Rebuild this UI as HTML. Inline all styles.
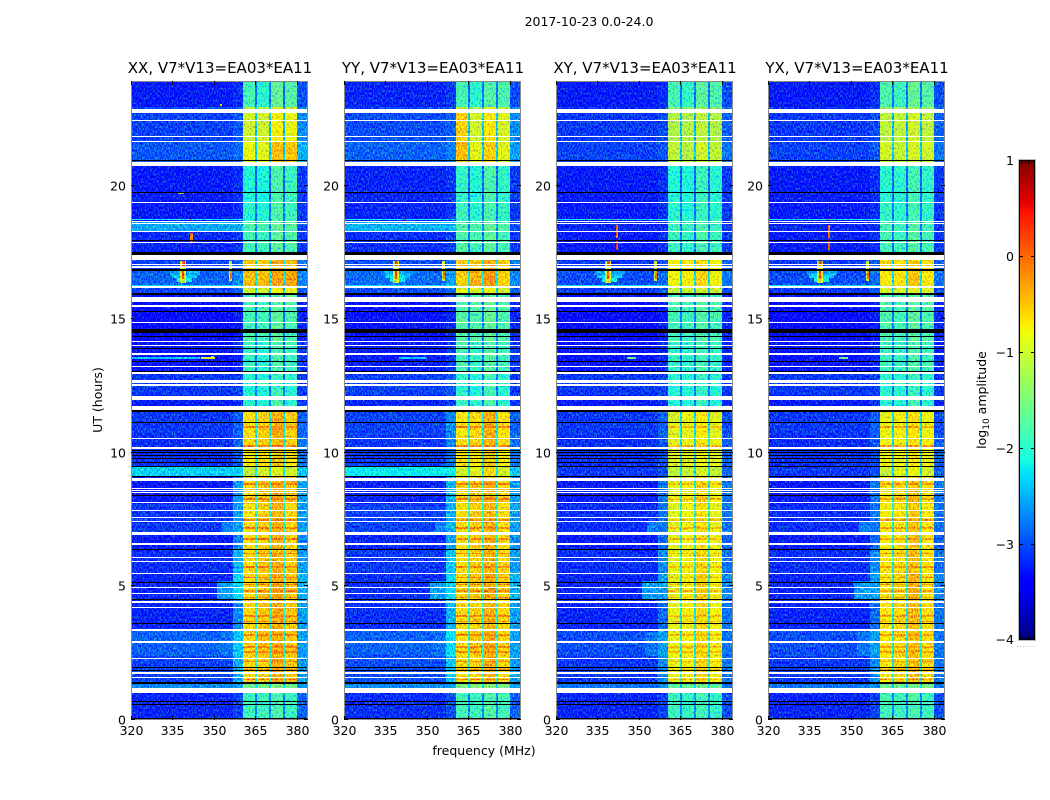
<!DOCTYPE html>
<html>
<head>
<meta charset="utf-8">
<title>2017-10-23 0.0-24.0</title>
<style>
html,body{margin:0;padding:0;background:#fff;}
svg{display:block;}
text{font-family:"DejaVu Sans","Liberation Sans",sans-serif;fill:#000;font-size:12.5px;}
</style>
</head>
<body>
<svg id="figure" xmlns="http://www.w3.org/2000/svg" width="1050" height="800" viewBox="0 0 1050 800">
  <defs>
    <filter id="grain" x="0" y="0" width="100%" height="100%" color-interpolation-filters="sRGB">
      <feTurbulence type="fractalNoise" baseFrequency="0.75 0.42" numOctaves="1" seed="7" result="t"/>
      <feColorMatrix in="t" type="matrix" values="1.2 0 0 0 -.1  2.2 0 0 0 -.6  -1.2 0 0 0 1.1  0 0 0 0 1" result="n"/>
      <feComposite in="SourceGraphic" in2="n" operator="arithmetic" k1="0" k2="1" k3=".6" k4="-.3"/>
    </filter>
  </defs>
  <text x="589" y="26" text-anchor="middle">2017-10-23 0.0-24.0</text>
  <g id="panels"></g>
  <text transform="translate(102,400) rotate(-90)" text-anchor="middle">UT (hours)</text>
  <text x="484" y="755" text-anchor="middle">frequency (MHz)</text>
  <g id="colorbar"></g>
  <text transform="translate(986,400) rotate(-90)" text-anchor="middle">log<tspan dy="3" style="font-size:9px">10</tspan><tspan dy="-3"> amplitude</tspan></text>
</svg>
<script>
const NS = 'http://www.w3.org/2000/svg';

/* ---- chart data ---- */
const panelTitles = ['XX, V7*V13=EA03*EA11', 'YY, V7*V13=EA03*EA11', 'XY, V7*V13=EA03*EA11', 'YX, V7*V13=EA03*EA11'];
const freqTicks = [320, 335, 350, 365, 380];
const hourTicks = [0, 5, 10, 15, 20];
const colorbarTicks = [1, 0, -1, -2, -3, -4];

/* frequency bin edges in MHz; level column index for each bin */
const freqEdges = [320, 357, 360.5, 365, 365.6, 369.9, 370.6, 375, 375.7, 379.9, 384];
const freqBinColumn = [0, 1, 2, 3, 4, 3, 5, 3, 6, 7];

/* time segment edges in hours */
const hourEdges = [0, 1, 1.44, 2.39, 3.39, 4.49, 5.48, 6.38, 6.98, 8.08, 9.11, 9.48, 10.17, 10.67, 11.59, 12.17, 12.97, 14.17, 15.92, 16.22, 16.85, 17.45, 18.3, 18.67, 19.35, 20.79, 21.64, 22.74, 22.94, 23.93];

/* log10 amplitude per segment: bg, ramp, band A, notch, band B, band C, band D, tail */
const xxLevels = [
[-3.2,-3.05,-1.9,-2.7,-1.9,-1.8,-1.9,-2.9],[-2.7,-2.6,-1.6,-2.3,-1.6,-1.5,-1.6,-2.6],
[-3.05,-2.5,-.6,-2.1,-.55,-.35,-.5,-2.6],[-2.9,-2.4,-.6,-2.1,-.45,-.35,-.5,-2.6],
[-3.2,-2.7,-.6,-2.1,-.5,-.35,-.5,-2.6],[-3.2,-2.3,-.6,-2.1,-.5,-.35,-.5,-2.5],
[-3.15,-2.5,-.6,-2.1,-.5,-.4,-.55,-2.6],[-3.25,-2.7,-.65,-2.1,-.55,-.4,-.6,-2.7],
[-3.1,-2.6,-.65,-2.1,-.55,-.4,-.6,-2.6],[-3.25,-2.6,-.6,-2.1,-.5,-.35,-.5,-2.6],
[-2.35,-2.35,-1.1,-2.2,-1.0,-.9,-1.0,-2.4],[-3.15,-2.9,-.7,-2.2,-.65,-.5,-.65,-2.8],
[-3.15,-2.9,-.6,-2.2,-.55,-.4,-.55,-2.8],[-3.1,-2.9,-.65,-2.2,-.55,-.35,-.55,-2.9],
[-3.25,-3.15,-2.0,-2.8,-2.05,-1.8,-2.0,-3.1],[-3.1,-3.05,-2.05,-2.8,-2.05,-1.9,-2.0,-3.1],
[-3.3,-3.2,-1.95,-2.8,-2.0,-1.8,-1.9,-3.1],[-3.35,-3.25,-1.85,-2.8,-1.85,-1.7,-1.8,-3.2],
[-3.05,-2.9,-1.0,-2.4,-1.0,-.8,-.85,-2.9],[-2.9,-2.7,-.45,-2.2,-.45,-.3,-.3,-2.7],
[-3.05,-2.9,-.5,-2.2,-.55,-.4,-.45,-2.8],[-3.2,-3.1,-1.85,-2.8,-1.9,-1.7,-1.8,-3.1],
[-2.55,-2.55,-1.8,-2.7,-1.85,-1.65,-1.75,-3],[-3.25,-3.15,-2.0,-2.8,-2.05,-1.8,-1.9,-3.1],
[-3.25,-3.15,-2.05,-2.9,-2.1,-1.8,-1.9,-3.1],[-2.95,-2.85,-.85,-2.4,-.9,-.45,-.5,-2.5],
[-3.05,-2.95,-1,-2.4,-1,-.75,-.85,-2.7],[-3.05,-2.95,-1.2,-2.4,-1.2,-.9,-1,-2.7],
[-3.25,-3.15,-1.85,-2.8,-2.0,-1.65,-1.75,-3]];
const yyLevels = [
[-3.15,-3.0,-1.85,-2.7,-1.9,-1.75,-1.85,-2.9],[-2.7,-2.6,-1.5,-2.3,-1.5,-1.4,-1.5,-2.6],
[-3.0,-2.4,-.6,-2.1,-.6,-.4,-.6,-2.6],[-2.9,-2.3,-.65,-2.1,-.5,-.35,-.6,-2.6],
[-3.15,-2.5,-.6,-2.1,-.55,-.4,-.6,-2.6],[-3.15,-2.3,-.6,-2.1,-.5,-.35,-.55,-2.5],
[-3.1,-2.4,-.65,-2.1,-.55,-.4,-.6,-2.6],[-3.2,-2.6,-.65,-2.1,-.55,-.4,-.65,-2.7],
[-3.05,-2.5,-.65,-2.1,-.55,-.4,-.65,-2.6],[-3.2,-2.5,-.6,-2.1,-.5,-.4,-.55,-2.6],
[-2.2,-2.2,-1.0,-2.2,-.9,-.6,-1.0,-2.4],[-3.1,-2.8,-.7,-2.2,-.7,-.5,-.75,-2.8],
[-3.1,-2.7,-.65,-2.2,-.6,-.4,-.65,-2.8],[-3.05,-2.7,-.7,-2.2,-.6,-.35,-.65,-2.9],
[-3.2,-3.05,-1.9,-2.8,-2.0,-1.8,-2.0,-3.1],[-3.05,-2.95,-2.0,-2.8,-2.05,-1.85,-2.0,-3.1],
[-3.25,-3.1,-1.85,-2.8,-1.95,-1.75,-1.9,-3.1],[-3.3,-3.2,-1.75,-2.8,-1.8,-1.65,-1.8,-3.2],
[-3.0,-2.85,-.9,-2.4,-.95,-.8,-1.0,-2.9],[-2.85,-2.6,-.55,-2.2,-.4,-.25,-.55,-2.7],
[-3.0,-2.8,-.55,-2.2,-.5,-.35,-.55,-2.8],[-3.15,-3.05,-1.8,-2.8,-1.85,-1.7,-1.85,-3.1],
[-2.5,-2.5,-1.75,-2.7,-1.8,-1.65,-1.8,-3],[-3.2,-3.1,-1.9,-2.8,-2.0,-1.8,-1.95,-3.1],
[-3.2,-3.1,-1.95,-2.9,-2.05,-1.8,-1.95,-3.1],[-2.9,-2.75,-.45,-2.4,-.9,-.55,-.9,-2.6],
[-3.0,-2.9,-.55,-2.4,-1.0,-.7,-.95,-2.7],[-3.05,-2.95,-1.0,-2.4,-1.2,-.9,-1.1,-2.7],
[-3.2,-3.1,-1.85,-2.8,-2.0,-1.75,-1.8,-3]];
const xyLevels = [
[-3.2,-3.05,-1.9,-2.7,-1.95,-1.85,-1.95,-3],[-2.8,-2.7,-1.7,-2.4,-1.7,-1.6,-1.7,-2.8],
[-3.1,-2.7,-.85,-2.2,-.75,-.6,-.75,-2.8],[-3.0,-2.6,-.85,-2.2,-.75,-.6,-.8,-2.8],
[-3.2,-2.85,-.85,-2.2,-.75,-.6,-.8,-2.8],[-3.2,-2.6,-.85,-2.2,-.75,-.55,-.8,-2.7],
[-3.15,-2.7,-.85,-2.2,-.75,-.6,-.8,-2.8],[-3.25,-2.85,-.9,-2.2,-.8,-.65,-.85,-2.9],
[-3.15,-2.8,-.9,-2.2,-.8,-.65,-.85,-2.8],[-3.25,-2.8,-.85,-2.2,-.75,-.6,-.8,-2.8],
[-3.1,-3.0,-1.15,-2.3,-1.05,-.95,-1.1,-2.9],[-3.15,-3.0,-.9,-2.3,-.9,-.8,-.9,-2.9],
[-3.15,-2.95,-.9,-2.3,-.85,-.7,-.85,-2.9],[-3.1,-2.9,-.95,-2.3,-.85,-.7,-.9,-3],
[-3.25,-3.15,-2.05,-2.8,-2.05,-1.9,-2.05,-3.2],[-3.1,-3.05,-2.05,-2.8,-2.05,-1.95,-2.05,-3.1],
[-3.3,-3.2,-1.95,-2.8,-2.0,-1.85,-1.95,-3.2],[-3.35,-3.25,-1.85,-2.8,-1.9,-1.75,-1.85,-3.2],
[-3.1,-2.95,-1.1,-2.4,-1.1,-1.0,-1.05,-3],[-3.0,-2.85,-.8,-2.3,-.75,-.6,-.8,-2.8],
[-3.1,-2.95,-.75,-2.3,-.7,-.6,-.75,-2.9],[-3.25,-3.15,-1.9,-2.8,-1.95,-1.8,-1.9,-3.1],
[-3.2,-3.15,-1.9,-2.8,-1.9,-1.8,-1.9,-3.1],[-3.25,-3.15,-2.0,-2.8,-2.05,-1.9,-2.0,-3.1],
[-3.25,-3.15,-2.05,-2.9,-2.05,-1.9,-2.0,-3.1],[-3.05,-2.95,-1.1,-2.4,-1.15,-1.0,-1.1,-2.8],
[-3.1,-3.0,-1.2,-2.5,-1.2,-1.1,-1.2,-2.9],[-3.15,-3.05,-1.4,-2.5,-1.4,-1.3,-1.4,-2.9],
[-3.25,-3.15,-1.85,-2.8,-1.95,-1.7,-1.8,-3]];
const yxLevels = [
[-3.2,-3.05,-1.85,-2.7,-1.9,-1.8,-1.9,-3],[-2.8,-2.7,-1.6,-2.4,-1.6,-1.55,-1.6,-2.8],
[-3.1,-2.7,-.7,-2.2,-.6,-.45,-.6,-2.8],[-3.0,-2.6,-.7,-2.2,-.6,-.45,-.65,-2.8],
[-3.2,-2.85,-.7,-2.2,-.6,-.45,-.65,-2.8],[-3.2,-2.6,-.7,-2.2,-.6,-.4,-.65,-2.7],
[-3.15,-2.7,-.7,-2.2,-.6,-.45,-.65,-2.8],[-3.25,-2.85,-.75,-2.2,-.65,-.5,-.7,-2.9],
[-3.15,-2.8,-.75,-2.2,-.65,-.5,-.7,-2.8],[-3.25,-2.8,-.7,-2.2,-.6,-.45,-.65,-2.8],
[-3.1,-3.0,-1.05,-2.3,-.95,-.85,-1.0,-2.9],[-3.15,-3.0,-.8,-2.3,-.8,-.7,-.8,-2.9],
[-3.15,-2.95,-.8,-2.3,-.75,-.65,-.75,-2.9],[-3.1,-2.9,-.85,-2.3,-.75,-.65,-.8,-3],
[-3.25,-3.15,-2.0,-2.8,-2.05,-1.85,-2.0,-3.2],[-3.1,-3.05,-2.0,-2.8,-2.0,-1.9,-2.0,-3.1],
[-3.3,-3.2,-1.9,-2.8,-1.95,-1.8,-1.9,-3.2],[-3.35,-3.25,-1.8,-2.8,-1.85,-1.7,-1.8,-3.2],
[-3.1,-2.95,-1.0,-2.4,-1.0,-.9,-.95,-3],[-3.0,-2.85,-.7,-2.3,-.65,-.5,-.7,-2.8],
[-3.1,-2.95,-.6,-2.3,-.6,-.5,-.65,-2.9],[-3.25,-3.15,-1.85,-2.8,-1.9,-1.75,-1.85,-3.1],
[-3.2,-3.15,-1.85,-2.8,-1.9,-1.75,-1.85,-3.1],[-3.25,-3.15,-1.95,-2.8,-2.0,-1.85,-1.95,-3.1],
[-3.25,-3.15,-2.0,-2.9,-2.0,-1.85,-1.95,-3.1],[-3.05,-2.95,-1.0,-2.4,-1.05,-.95,-1.0,-2.8],
[-3.1,-3.0,-1.1,-2.5,-1.1,-1.0,-1.1,-2.9],[-3.15,-3.05,-1.3,-2.5,-1.3,-1.2,-1.3,-2.9],
[-3.25,-3.15,-1.8,-2.8,-1.9,-1.65,-1.75,-3]];
const panelLevels = [xxLevels, yyLevels, xyLevels, yxLevels];

/* brighter horizontal striations inside the bands */
const stripeHours = [1.51, 1.89, 2.19, 2.54, 2.74, 3.19, 3.69, 3.89, 4.59, 4.84, 5.08, 5.33, 5.73, 6.23, 6.78, 7.18, 7.48, 8.28, 8.83, 10.27, 10.97];
const stripeLevel = [-0.12, -0.15, -0.42, -0.28];

/* localised interference: f0, f1, t0, t1, level */
const rfiShared = [
[334,345,16.67,16.82,-2.55],[335,344,16.55,16.67,-2.35],[336.5,342,16.4,16.55,-2.1],
[337.8,339.9,16.35,17.2,-1.0],[338.5,339.2,16.5,16.82,0.2],[338.3,339.4,16.94,17.2,0.15],
[355.5,356.5,16.45,17.2,-1.0],[355.8,356.4,16.5,16.82,-0.1],
[320,361,16.24,16.28,-2.3],[320,361,18.71,18.75,-2.2],[341.5,342.2,18.71,18.75,0.1],
[351,357,4.5,5.2,-2.6],[352,357,2.4,3.3,-2.8],[353,357,6.98,7.4,-2.75]
];
const xxRfi = [[320,345,13.53,13.58,-2.4],[345.3,350.4,13.53,13.58,-1.0],[349,350,13.53,13.63,-0.6],[341.5,342.3,17.9,18.25,-0.1],[352,353,23,23.05,-0.7],[337,339,19.7,19.75,-1.4]];
const yyRfi = [[340,350,13.53,13.58,-2.4]];
const xyRfi = [[341.6,342.3,17.6,17.95,0.2],[341.6,342.3,18.05,18.55,-0.1],[345.5,349,13.53,13.58,-1.6]];
const yxRfi = [[341.6,342.3,17.6,17.95,0.1],[341.6,342.3,18.05,18.55,-0.1],[345.5,349,13.53,13.58,-1.6]];
const panelRfi = [xxRfi, yyRfi, xyRfi, yxRfi];

/* flagged rows with no data (white) and zero-amplitude rows (black): t0, t1 in hours */
const whiteRows = [
[22.74,22.89],[22.42,22.47],[21.82,21.87],[21.63,21.68],[20.75,20.9],[19.35,19.4],[18.65,18.7],[18.56,18.61],[18.26,18.31],[17.85,17.89],
[17.23,17.41],[17.04,17.09],[16.94,16.99],[16.19,16.24],[15.65,15.84],[15.48,15.53],[14.855,14.895],[14.145,14.185],[14.015,14.055],[13.675,13.745],
[13.205,13.245],[12.975,13.015],[12.625,12.735],[12.525,12.565],[11.985,12.135],[11.605,11.755],[10.535,10.575],[10.165,10.205],[8.96,9.07],[8.65,8.7],
[8.58,8.62],[8.5,8.55],[8.11,8.15],[7.81,7.85],[7.58,7.62],[7.4,7.44],[6.93,7.04],[6.57,6.61],[6.08,6.12],[5.93,5.97],
[5.48,5.52],[4.93,4.97],[4.7,4.74],[4.4,4.44],[4.21,4.25],[3.33,3.4],[2.9,2.94],[2.3,2.34],[1.74,1.78],[1.59,1.62],[1,1.19]
];
const blackRows = [
[20.94,20.99],[19.72,19.76],[17.92,17.96],[17.41,17.53],[16.82,16.88],[15.92,15.98],[15.265,15.305],[14.505,14.655],[14.335,14.375],[13.875,13.915],
[13.395,13.435],[13.025,13.055],[11.545,11.595],[11.135,11.175],[10.085,10.125],[9.99,10.03],[9.88,9.92],[9.76,9.8],[9.61,9.65],[9.46,9.5],
[9.09,9.13],[8.37,8.41],[6.38,6.42],[5.14,5.18],[4.51,4.55],[3.61,3.65],[1.96,2],[1.85,1.89],[1.34,1.42],[0.68,0.72],[0.57,0.61],[0.04,0.08]
];

/* ---- layout ---- */
const panelLeft = [131, 344, 556, 768];
const panelWidth = 177;
const plotTop = 81, plotBottom = 720;
const freqMin = 320, freqMax = 384, hourMax = 23.93;
const cbLeft = 1019, cbRight = 1035, cbTop = 160, cbBottom = 640;

function xScale(left, f) { return left + (f - freqMin) / (freqMax - freqMin) * panelWidth; }
function yScale(h) { return plotBottom - h / hourMax * (plotBottom - plotTop); }
function cbScale(v) { return cbBottom - (v + 4) / 5 * (cbBottom - cbTop); }

function lerpStops(stops, v) {
  for (let i = 1; i < stops.length; i++) {
    if (v <= stops[i][0]) {
      const a = stops[i - 1], b = stops[i];
      return a[1] + (b[1] - a[1]) * (v - a[0]) / (b[0] - a[0]);
    }
  }
  return stops[stops.length - 1][1];
}
const jetR = [[0,0],[.35,0],[.66,1],[.89,1],[1,.5]];
const jetG = [[0,0],[.125,0],[.375,1],[.64,1],[.91,0],[1,0]];
const jetB = [[0,.5],[.11,1],[.34,1],[.65,0],[1,0]];
function levelColor(level) {
  const v = Math.max(0, Math.min(1, (level + 4) / 5));
  const c = s => Math.round(255 * lerpStops(s, v));
  return 'rgb(' + c(jetR) + ',' + c(jetG) + ',' + c(jetB) + ')';
}

function make(tag, attrs, parent) {
  const el = document.createElementNS(NS, tag);
  for (const k in attrs) el.setAttribute(k, attrs[k]);
  parent.appendChild(el);
  return el;
}
function rowRect(left, x0, x1, t0, t1, fill, parent) {
  const yA = Math.round(yScale(t1));
  const yB = Math.max(yA + 1, Math.round(yScale(t0)));
  const xA = Math.round(x0), xB = Math.max(xA + 1, Math.round(x1));
  return make('rect', { x: xA, y: yA, width: xB - xA, height: yB - yA, fill: fill, 'shape-rendering': 'crispEdges' }, parent);
}

/* ---- panels ---- */
const panelsRoot = document.getElementById('panels');
const bandColumns = [2, 4, 5, 6];
panelTitles.forEach(function (title, p) {
  const left = panelLeft[p];
  const right = left + panelWidth;
  const axes = make('g', {}, panelsRoot);
  
  

  const heat = make('g', { filter: 'url(#grain)' }, axes);
  
  

  panelLevels[p].forEach(function (row, s) {
    freqBinColumn.forEach(function (col, b) {
      const cell = rowRect(left, xScale(left, freqEdges[b]), xScale(left, freqEdges[b + 1]), hourEdges[s], hourEdges[s + 1], levelColor(row[col]), heat);
      
      
    });
  });

  stripeHours.forEach(function (h) {
    freqBinColumn.forEach(function (col, b) {
      if (bandColumns.indexOf(col) < 0) return;
      const stripe = rowRect(left, xScale(left, freqEdges[b]), xScale(left, freqEdges[b + 1]), h - 0.03, h + 0.03, levelColor(stripeLevel[p]), heat);
      
      
    });
  });

  rfiShared.concat(panelRfi[p]).forEach(function (r) {
    const rfi = rowRect(left, xScale(left, r[0]), xScale(left, r[1]), r[2], r[3], levelColor(r[4]), heat);
    
    
  });

  whiteRows.forEach(function (r) {
    const gap = rowRect(left, left, right, r[0], r[1], '#fff', axes);
    
    
  });
  blackRows.forEach(function (r) {
    const zero = rowRect(left, left, right, r[0], r[1], '#000', axes);
    
    
  });

  const frame = make('rect', { x: left + 0.5, y: plotTop + 0.5, width: panelWidth - 1, height: plotBottom - plotTop - 1, fill: 'none', stroke: '#8a8a8a', 'stroke-width': 1 }, axes);
  
  

  const titleEl = make('text', { x: left + panelWidth / 2 + 0.5, y: 73, 'text-anchor': 'middle', style: 'font-size:15px' }, axes);
  titleEl.textContent = title;
  
  

  freqTicks.forEach(function (f) {
    const x = Math.round(xScale(left, f)) + 0.5;
    const tb = make('line', { x1: x, x2: x, y1: plotBottom, y2: plotBottom - 4, stroke: '#000' }, axes);
    
    
    const tt = make('line', { x1: x, x2: x, y1: plotTop, y2: plotTop + 4, stroke: '#000' }, axes);
    
    
    const lab = make('text', { x: x, y: 735, 'text-anchor': 'middle' }, axes);
    lab.textContent = f;
    
    
  });
  hourTicks.forEach(function (h) {
    const y = Math.round(yScale(h)) - 0.5;
    const tl = make('line', { x1: left, x2: left + 4, y1: y, y2: y, stroke: '#000' }, axes);
    
    
    const tr = make('line', { x1: right, x2: right - 4, y1: y, y2: y, stroke: '#000' }, axes);
    
    
    const lab = make('text', { x: left - 5, y: y + 5, 'text-anchor': 'end' }, axes);
    lab.textContent = h;
    
    
  });
});

/* ---- colorbar ---- */
const cb = document.getElementById('colorbar');
for (let y = cbTop; y < cbBottom; y++) {
  const level = 1 - (y + 0.5 - cbTop) / (cbBottom - cbTop) * 5;
  const strip = make('rect', { x: cbLeft, y: y, width: cbRight - cbLeft, height: 1, fill: levelColor(level), 'shape-rendering': 'crispEdges' }, cb);
  
  
}
const cbOutline = make('rect', { x: cbLeft + 0.5, y: cbTop + 0.5, width: cbRight - cbLeft - 1, height: cbBottom - cbTop - 1, fill: 'none', stroke: '#000', 'stroke-width': 1 }, cb);


const cbFrame = make('rect', { x: cbLeft - 0.5, y: cbTop - 0.5, width: cbRight - cbLeft + 1, height: cbBottom - cbTop + 1, fill: 'none', stroke: '#bbb', 'stroke-width': 1 }, cb);



colorbarTicks.forEach(function (v) {
  const y = Math.round(cbScale(v)) + (v === -4 ? -0.5 : 0.5);
  const a = make('line', { x1: cbLeft, x2: cbLeft + 4, y1: y, y2: y, stroke: '#000' }, cb);
  
  
  const b = make('line', { x1: cbRight, x2: cbRight - 4, y1: y, y2: y, stroke: '#000' }, cb);
  
  
  const lab = make('text', { x: cbLeft - 5, y: y + 4.5, 'text-anchor': 'end' }, cb);
  lab.textContent = String(v).replace('-', '\u2212');
  
  
});
for (let i = 1; i < 5; i++) {
  const x = cbLeft + i * (cbRight - cbLeft) / 5;
  const mt = make('line', { x1: x, x2: x, y1: cbTop, y2: cbTop + 4, stroke: '#000' }, cb);
  
  
  const mb = make('line', { x1: x, x2: x, y1: cbBottom, y2: cbBottom - 4, stroke: '#000' }, cb);
  
  
}
const cbDots = make('text', { x: (cbLeft + cbRight) / 2 - 1, y: 647, 'text-anchor': 'middle', style: 'font-size:7px;letter-spacing:1px;fill:#888' }, cb);
cbDots.textContent = '......';


</script>
</body>
</html>
